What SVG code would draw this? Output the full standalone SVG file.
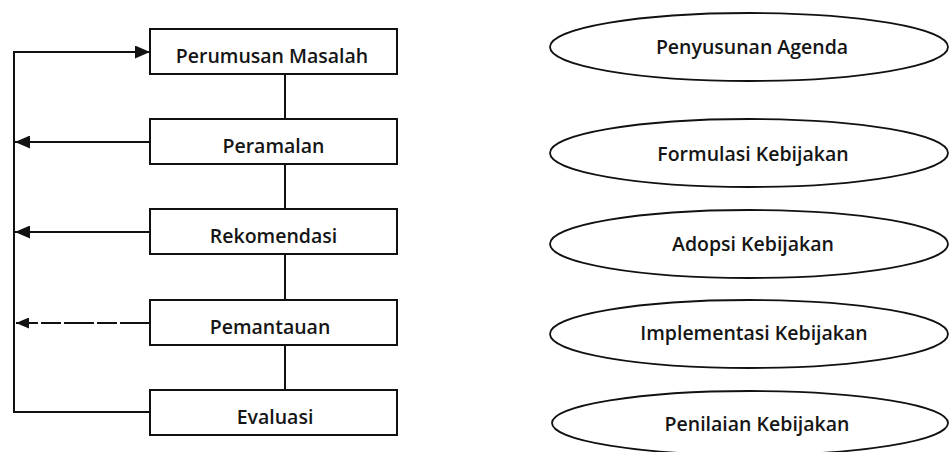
<svg xmlns="http://www.w3.org/2000/svg" width="950" height="452" viewBox="0 0 950 452">
  <style>
    .box { fill: none; stroke: #111; stroke-width: 2; }
    .ell { fill: none; stroke: #111; stroke-width: 1.8; }
    .lbl { font-family: "Open Sans", "Liberation Sans", sans-serif; font-size: 19.5px; font-weight: 600; fill: #151515; text-anchor: middle; }
    .ln { fill: none; stroke: #111; stroke-width: 2; }
  </style>
  <defs>
    <marker id="ah" viewBox="0 0 15 13" refX="15" refY="6.5" markerWidth="15" markerHeight="13" markerUnits="userSpaceOnUse" orient="auto">
      <path d="M0,0 L15,6.5 L0,13 Z" fill="#111"/>
    </marker>
    <marker id="ahs" viewBox="0 0 13 11" refX="13" refY="5.5" markerWidth="13" markerHeight="11" markerUnits="userSpaceOnUse" orient="auto">
      <path d="M0,0 L13,5.5 L0,11 Z" fill="#111"/>
    </marker>
  </defs>

  <g id="connectors">
    <line class="ln" x1="285" y1="74" x2="285" y2="119"/>
    <line class="ln" x1="285" y1="164" x2="285" y2="209"/>
    <line class="ln" x1="285" y1="254" x2="285" y2="300"/>
    <line class="ln" x1="285" y1="345" x2="285" y2="390"/>
    <path class="ln" d="M150,412 H14 V52 H150" marker-end="url(#ah)"/>
    <line class="ln" x1="150" y1="142" x2="15" y2="142" marker-end="url(#ah)"/>
    <line class="ln" x1="150" y1="232" x2="15" y2="232" marker-end="url(#ah)"/>
    <line class="ln" x1="150" y1="323" x2="16" y2="323" stroke-dasharray="30 3 20 3" marker-end="url(#ahs)"/>
  </g>

  <g id="perumusan-masalah">
    <rect class="box" x="150" y="29" width="247" height="45"/>
    <text class="lbl" x="272" y="63">Perumusan Masalah</text>
  </g>
  <g id="peramalan">
    <rect class="box" x="150" y="119" width="247" height="45"/>
    <text class="lbl" x="273.5" y="153">Peramalan</text>
  </g>
  <g id="rekomendasi">
    <rect class="box" x="150" y="209" width="247" height="45"/>
    <text class="lbl" x="273.5" y="243">Rekomendasi</text>
  </g>
  <g id="pemantauan">
    <rect class="box" x="150" y="300" width="247" height="45"/>
    <text class="lbl" x="270" y="334">Pemantauan</text>
  </g>
  <g id="evaluasi">
    <rect class="box" x="150" y="390" width="247" height="45"/>
    <text class="lbl" x="275" y="424">Evaluasi</text>
  </g>

  <g id="penyusunan-agenda">
    <ellipse class="ell" cx="749" cy="47" rx="199" ry="34"/>
    <text class="lbl" x="752" y="54">Penyusunan Agenda</text>
  </g>
  <g id="formulasi-kebijakan">
    <ellipse class="ell" cx="749" cy="153" rx="199" ry="34"/>
    <text class="lbl" x="753" y="161">Formulasi Kebijakan</text>
  </g>
  <g id="adopsi-kebijakan">
    <ellipse class="ell" cx="749" cy="244" rx="199" ry="34"/>
    <text class="lbl" x="753" y="251">Adopsi Kebijakan</text>
  </g>
  <g id="implementasi-kebijakan">
    <ellipse class="ell" cx="749" cy="334" rx="199" ry="34"/>
    <text class="lbl" x="754" y="340">Implementasi Kebijakan</text>
  </g>
  <g id="penilaian-kebijakan">
    <ellipse class="ell" cx="750" cy="423" rx="198" ry="32"/>
    <text class="lbl" x="757" y="431">Penilaian Kebijakan</text>
  </g>
</svg>
